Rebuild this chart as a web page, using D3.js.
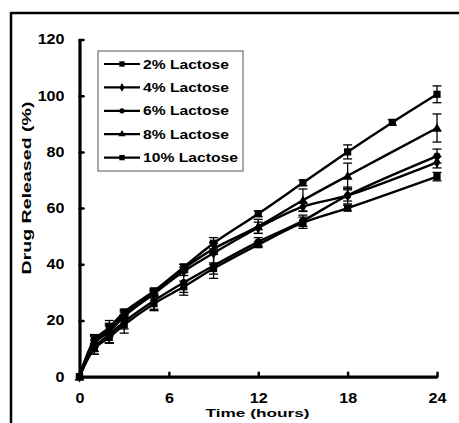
<!DOCTYPE html>
<html><head><meta charset="utf-8">
<script src="https://cdn.jsdelivr.net/npm/d3@7"></script>
<style>body{margin:0;background:#fff}svg{display:block}text{font-family:"Liberation Sans",Arial,sans-serif;font-weight:bold;fill:#000}</style>
</head><body>
<svg id="c" width="459" height="423"></svg>
<script>
const times = [0, 1, 2, 3, 5, 7, 9, 12, 15, 18, 21, 24];
const seriesNames = ["2% Lactose", "4% Lactose", "6% Lactose", "8% Lactose", "10% Lactose"];
const seriesSymbols = ["square", "diamond", "circle", "triangle", "square"];
const lactose2  = [0, 10,   14,   18.5, 26,   32,   38.5, 47,   54.8, 60,   null, 71.2];
const lactose4  = [0, 12,   16,   21.5, 29.5, 37.5, 44,   53,   60.5, 64.5, null, 76.3];
const lactose6  = [0, 10.5, 15,   19.5, 27,   33.5, 39.5, 48,   55.5, 64.5, null, 78.5];
const lactose8  = [0, 12.5, 16.5, 22,   30,   38.5, 45.5, 53.5, 62.8, 71.5, null, 88.5];
const lactose10 = [0, 13,   17.5, 23,   30.5, 39,   47.5, 58,   69,   80,   90.5, 100.5];
const err2  = [0, 2,   2,   3,   2,   2,   2,   1,   2,   1,   0, 1.5];
const err4  = [0, 3,   4,   1.5, 1,   1.5, 4,   2,   1.5, 2,   0, 2];
const err6  = [0, 2.5, 3,   2.5, 3.5, 4.5, 4.5, 1.5, 2,   3,   0, 2.5];
const err8  = [0, 2,   2,   1.5, 1,   1.5, 2,   2.5, 4,   4.5, 0, 5];
const err10 = [0, 1.5, 1.5, 1,   1,   1,   2,   1,   1,   2.5, 1, 3];
const xTicks = [0, 6, 12, 18, 24];
const yTicks = [0, 20, 40, 60, 80, 100, 120];

const values = [lactose2, lactose4, lactose6, lactose8, lactose10];
const errors = [err2, err4, err6, err8, err10];

const svg = d3.select("#c");
const x = d3.scaleLinear().domain([0, 24]).range([79.5, 437]);
const y = d3.scaleLinear().domain([0, 120]).range([376.7, 39.5]);

function stretch(sel, f) {
  sel.each(function () {
    const w = this.getComputedTextLength();
    d3.select(this).attr("textLength", w * f).attr("lengthAdjust", "spacingAndGlyphs");
  });
}

// frame (top and left edges visible)
svg.append("line").attr("x1", 11).attr("x2", 459).attr("y1", 13).attr("y2", 13).attr("stroke", "#000").attr("stroke-width", 2.5);
svg.append("line").attr("x1", 11).attr("x2", 11).attr("y1", 12).attr("y2", 423).attr("stroke", "#000").attr("stroke-width", 2.5);

// axes
const gy = svg.append("g").attr("transform", "translate(79.5,0)")
  .call(d3.axisLeft(y).tickValues(yTicks).tickSize(-4).tickSizeOuter(0).tickPadding(15).tickFormat(d3.format("d")));
const gx = svg.append("g").attr("transform", "translate(0,376.7)")
  .call(d3.axisBottom(x).tickValues(xTicks).tickSize(-4).tickSizeOuter(0).tickPadding(16).tickFormat(d3.format("d")));
[gx, gy].forEach(g => {
  g.select(".domain").attr("stroke", "#000").attr("stroke-width", 3.2);
  g.selectAll(".tick line").attr("stroke", "#000").attr("stroke-width", 2.5).attr("stroke-linecap", "round");
  g.selectAll(".tick text").attr("font-size", 14).attr("font-family", null).style("font-weight", "bold").attr("fill", "#000");
  stretch(g.selectAll(".tick text"), 1.15);
});

// axis titles
const xt = svg.append("text").attr("x", 257.5).attr("y", 417).attr("text-anchor", "middle").attr("font-size", 11.5).text("Time (hours)");
stretch(xt, 104 / xt.node().getComputedTextLength());
const yt = svg.append("text").attr("transform", "translate(31,188) rotate(-90)").attr("text-anchor", "middle").attr("font-size", 13).text("Drug Released (%)");
stretch(yt, 173 / yt.node().getComputedTextLength());

const symType = { square: d3.symbolSquare, diamond: d3.symbolDiamond, circle: d3.symbolCircle, triangle: d3.symbolTriangle };
const symSize = { square: 52, diamond: 40, circle: 40, triangle: 42 };

const line = d3.line().defined(d => d[1] != null).x(d => x(d[0])).y(d => y(d[1])).curve(d3.curveCatmullRom.alpha(0.5));

const plot = svg.append("g");
values.forEach((vals, i) => {
  const pts = times.map((t, j) => [t, vals[j], errors[i][j]]).filter(d => d[1] != null);
  const g = plot.append("g");
  g.append("path").datum(pts).attr("d", line).attr("fill", "none").attr("stroke", "#000").attr("stroke-width", 2.4);
  const eb = g.selectAll("g.eb").data(pts.filter(d => d[2] > 0)).join("g");
  eb.append("line").attr("x1", d => x(d[0])).attr("x2", d => x(d[0])).attr("y1", d => y(d[1] - d[2])).attr("y2", d => y(d[1] + d[2])).attr("stroke", "#000").attr("stroke-width", 1.3);
  [1, -1].forEach(s => eb.append("line").attr("x1", d => x(d[0]) - 4.5).attr("x2", d => x(d[0]) + 4.5)
    .attr("y1", d => y(d[1] + s * d[2])).attr("y2", d => y(d[1] + s * d[2])).attr("stroke", "#000").attr("stroke-width", 1.3));
  const sym = seriesSymbols[i];
  g.selectAll("path.m").data(pts).join("path").attr("class", "m")
    .attr("transform", d => `translate(${x(d[0])},${y(d[1]) + (sym === "triangle" ? 1 : 0)})`)
    .attr("d", d3.symbol(symType[sym], symSize[sym])).attr("fill", "#000");
});

// legend
const lg = svg.append("g");
lg.append("rect").attr("x", 98).attr("y", 51).attr("width", 145).attr("height", 120).attr("fill", "#fff").attr("stroke", "#555").attr("stroke-width", 1);
seriesNames.forEach((name, i) => {
  const cy = 64 + i * 23.4;
  lg.append("line").attr("x1", 104).attr("x2", 140).attr("y1", cy).attr("y2", cy).attr("stroke", "#000").attr("stroke-width", 2.2);
  const sym = seriesSymbols[i];
  lg.append("path").attr("transform", `translate(122,${cy})`).attr("d", d3.symbol(symType[sym], symSize[sym] * 0.55)).attr("fill", "#000");
  const t = lg.append("text").attr("x", 143).attr("y", cy + 4.5).attr("font-size", 12.5).text(name);
  const target = i === 4 ? 95 : 86;
  stretch(t, target / t.node().getComputedTextLength());
});
</script>
</body></html>
